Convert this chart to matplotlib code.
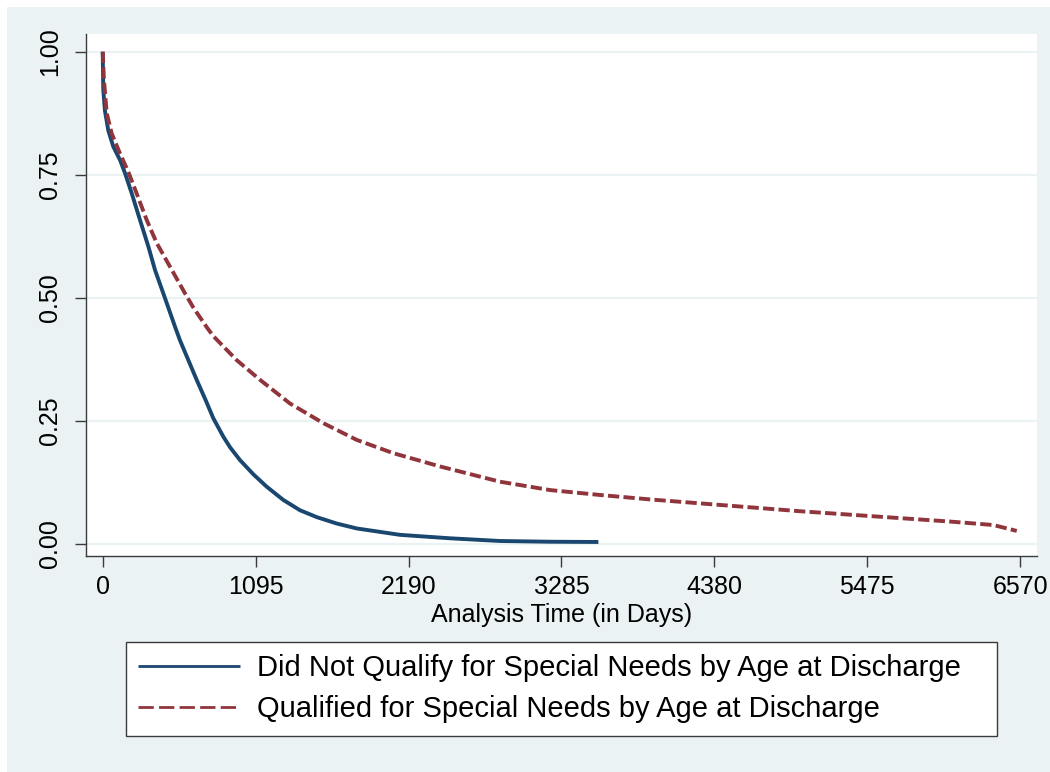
import matplotlib
matplotlib.use("Agg")
import matplotlib.pyplot as plt
from matplotlib.patches import Rectangle

# Data
t_notq = [0, 4, 16, 40, 76, 124, 160, 208, 267, 327, 375, 445, 518, 554, 673, 740,
          792, 864, 912, 983, 1079, 1174, 1293, 1413, 1533, 1676, 1819, 2129, 2487,
          2845, 3204, 3550]
s_notq = [1.0, 0.923, 0.88, 0.84, 0.807, 0.78, 0.753, 0.712, 0.658, 0.604, 0.556,
          0.500, 0.441, 0.413, 0.333, 0.290, 0.255, 0.2175, 0.196, 0.170, 0.141,
          0.116, 0.089, 0.068, 0.054, 0.041, 0.031, 0.018, 0.011, 0.0055, 0.004,
          0.0035]

t_q = [0, 9, 29, 64, 124, 183, 243, 315, 387, 482, 589, 649, 745, 792, 960, 1127,
       1341, 1580, 1819, 2081, 2416, 2845, 3204, 3562, 3920, 4278, 4636, 4994,
       5352, 5710, 6068, 6378, 6546]
s_q = [1.0, 0.942, 0.875, 0.834, 0.793, 0.756, 0.712, 0.658, 0.611, 0.563, 0.509,
       0.480, 0.440, 0.422, 0.373, 0.333, 0.285, 0.245, 0.211, 0.184, 0.157, 0.126,
       0.109, 0.099, 0.090, 0.082, 0.074, 0.066, 0.059, 0.052, 0.045, 0.038, 0.026]

x_ticks = [0, 1095, 2190, 3285, 4380, 5475, 6570]
y_ticks = [0.0, 0.25, 0.5, 0.75, 1.0]
y_ticklabels = ["0.00", "0.25", "0.50", "0.75", "1.00"]

label_notq = "Did Not Qualify for Special Needs by Age at Discharge"
label_q = "Qualified for Special Needs by Age at Discharge"
x_label = "Analysis Time (in Days)"

BG = "#EAF2F3"
NAVY = "#1A476F"
MAROON = "#90353B"

plt.rcParams['font.family'] = ['Liberation Sans', 'DejaVu Sans']

W, H = 1050, 772
fig = plt.figure(figsize=(W / 100, H / 100), dpi=100)
fig.patch.set_facecolor("white")
fig.patches.append(Rectangle((7 / W, 0), 1 - 7 / W, 1 - 7 / H, transform=fig.transFigure,
                             facecolor=BG, edgecolor="none", zorder=-10))

ax = fig.add_axes([86 / W, 1 - 556 / H, (1037 - 86) / W, (556 - 34) / H])
ax.set_facecolor("white")

ax.plot(t_notq, s_notq, color=NAVY, lw=2.8, solid_capstyle='butt',
        solid_joinstyle='round', label=label_notq, zorder=3)
ax.plot(t_q, s_q, color=MAROON, lw=2.8, dashes=(2.9, 1.1), label=label_q, zorder=3)

ax.set_xlim(-119.6, 6691)
ax.set_ylim(-0.025, 1.036)

ax.set_xticks(x_ticks)
ax.set_xticklabels([str(v) for v in x_ticks])
ax.set_yticks(y_ticks)
ax.set_yticklabels(y_ticklabels)
for lab in ax.get_yticklabels():
    lab.set_rotation(90)
    lab.set_va("center")

ax.grid(axis='y', color=BG, lw=1.6, zorder=1)
ax.grid(axis='x', visible=False)
ax.set_axisbelow(True)

for s in ["top", "right"]:
    ax.spines[s].set_visible(False)
for s in ["left", "bottom"]:
    ax.spines[s].set_color("#3a3a3a")
    ax.spines[s].set_linewidth(1.0)

ax.tick_params(axis='both', length=8, width=1.0, color="#3a3a3a", labelsize=18,
               labelcolor="black")
ax.tick_params(axis='y', pad=9)
ax.tick_params(axis='x', pad=6)

ax.set_xlabel(x_label, fontsize=18, labelpad=2.5)

leg = fig.legend(loc="upper left", mode="expand",
                 bbox_to_anchor=(126 / W, 1 - 734 / H, (997 - 126) / W, 92 / H),
                 fontsize=21, frameon=True, fancybox=False, handlelength=3.5,
                 handletextpad=0.58, labelspacing=0.45, borderpad=0.42,
                 borderaxespad=0.0)
leg.get_frame().set_edgecolor("#3a3a3a")
leg.get_frame().set_linewidth(1.0)
leg.get_frame().set_facecolor("white")
leg.get_frame().set_alpha(1.0)
lines = leg.get_lines()
lines[0].set_linewidth(2.0)
lines[1].set_linewidth(2.0)
lines[1].set_dashes((5.5, 1.9))

fig.savefig("out.png", dpi=100, facecolor=fig.get_facecolor())
